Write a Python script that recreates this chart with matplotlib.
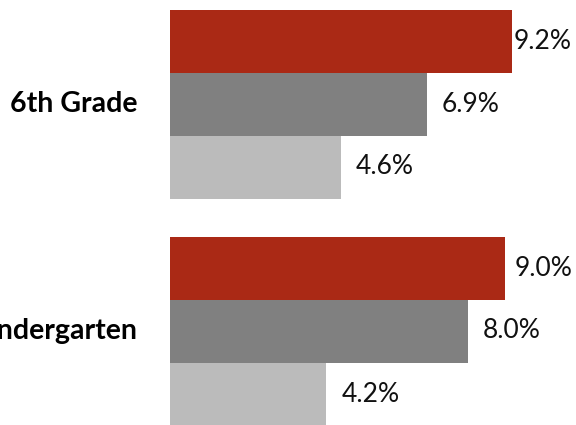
import matplotlib
matplotlib.use("Agg")
import matplotlib.pyplot as plt

categories = ["Kindergarten", "6th Grade"]
# series order within each group: top (red), middle (dark grey), bottom (light grey)
series_top = [9.0, 9.2]
series_mid = [8.0, 6.9]
series_bot = [4.2, 4.6]
colors = ["#AA2915", "#808080", "#BBBBBB"]

W, H, DPI = 576, 425, 100
fig = plt.figure(figsize=(W / DPI, H / DPI), dpi=DPI)
fig.patch.set_facecolor("white")

# layout in pixels
left_px = 170
px_per_unit = 37.2
bar_px = 63
group_step_px = 227
kg_center_px = 331

ax = fig.add_axes([left_px / W, 0, 1 - left_px / W, 1])
ax.set_xlim(0, (W - left_px) / px_per_unit)
ybot = -(H - kg_center_px) / bar_px
ytop = kg_center_px / bar_px
ax.set_ylim(ybot, ytop)
ax.axis("off")

step = group_step_px / bar_px
font = "Lato"
label_size = 19
cat_size = 20.5

texts = []
for gi, cat in enumerate(categories):
    c = gi * step
    vals = [series_top[gi], series_mid[gi], series_bot[gi]]
    for k, (v, col) in enumerate(zip(vals, colors)):
        y = c + 1 - k
        ax.barh(y, v, height=1.0, color=col, edgecolor="none")
        t = ax.annotate(f"{v:.1f}%", xy=(v, y), xytext=(15 * 72 / DPI, 0),
                        textcoords="offset points", ha="left", va="center",
                        fontsize=label_size, family=font, color="#111111")
        texts.append(t)
    fig.text((left_px - 32) / W, 1 - (kg_center_px - gi * group_step_px) / H, cat,
             ha="right", va="center", fontsize=cat_size, fontweight="bold",
             family=font, color="black")

# keep value labels inside the figure
fig.canvas.draw()
r = fig.canvas.get_renderer()
for t in texts:
    bb = t.get_window_extent(r)
    limit = 572
    if bb.x1 > limit:
        dx = (bb.x1 - limit) * 72 / DPI
        ox, oy = t.xyann
        t.xyann = (ox - dx, oy)

fig.savefig("out.png", dpi=DPI, facecolor="white")
